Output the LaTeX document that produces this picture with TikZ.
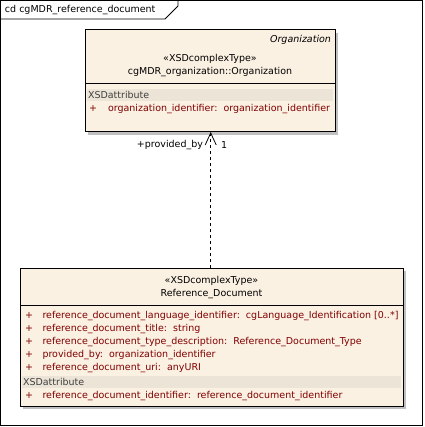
\documentclass[tikz,border=0pt]{standalone}
\usepackage{fontspec}
\setmainfont{DejaVu Sans}
\usetikzlibrary{arrows.meta}
\definecolor{boxfill}{RGB}{251,241,227}
\definecolor{bandfill}{RGB}{236,228,215}
\definecolor{attrred}{RGB}{128,0,0}
\definecolor{shadowgray}{RGB}{192,192,192}
\definecolor{xsdgray}{RGB}{64,64,64}
\begin{document}
\begin{tikzpicture}[x=1pt,y=-1pt,
  every node/.style={font=\fontsize{9.5}{10}\selectfont, inner sep=0pt, outer sep=0pt},
  classbox/.style={draw=black, line width=1pt, fill=boxfill, rectangle, anchor=north west},
  attr/.style={text=attrred, anchor=west},
  plus/.style={text=attrred, anchor=west},
  band/.style={fill=bandfill, draw=none},
  xsd/.style={anchor=west, text=xsdgray}]
\useasboundingbox (0,0) rectangle (424,427);
\fill[white] (0,0) rectangle (424,427);
% frame
\draw[line width=0.8pt] (0.5,0.5) rectangle (422.5,425.5);
\draw[line width=0.8pt] (0.5,19) -- (165,19) -- (178,6) -- (178,0.5);
\node[anchor=west] (title) at (5,10.5) {cd cgMDR\_reference\_document};
% Organization box
\fill[shadowgray] (88,33) rectangle (338,135);
\node[classbox, minimum width=250, minimum height=102] (org) at (85,30) {};
\fill[band] (87,89) rectangle (333,101);
\draw[line width=0.8pt] (85,83) -- (335,83);
\node[anchor=east, font=\fontsize{9.5}{10}\selectfont\itshape] (orgtag) at (331,40) {Organization};
\node (orgst) at (210,59) {«XSDcomplexType»};
\node (orgname) at (210,72) {cgMDR\_organization::Organization};
\node[xsd] (orgxsd) at (88,95) {XSDattribute};
\node[plus] (orgp) at (89,109) {+};
\node[attr] (orga) at (108,109) {organization\_identifier:\ \ organization\_identifier};
% Reference_Document box
\fill[shadowgray] (23,271) rectangle (406,409);
\node[classbox, minimum width=383, minimum height=138] (ref) at (20,268) {};
\draw[line width=0.8pt] (20,305) -- (403,305);
\node (refst) at (211.5,281) {«XSDcomplexType»};
\node (refname) at (211.5,294) {Reference\_Document};
\node[plus] (rp1) at (25,316) {+};
\node[attr] (ra1) at (42.5,316) {reference\_document\_language\_identifier:\ \ cgLanguage\_Identification [0..*]};
\node[plus] (rp2) at (25,329) {+};
\node[attr] (ra2) at (42.5,329) {reference\_document\_title:\ \ string};
\node[plus] (rp3) at (25,342) {+};
\node[attr] (ra3) at (42.5,342) {reference\_document\_type\_description:\ \ Reference\_Document\_Type};
\node[plus] (rp4) at (25,355) {+};
\node[attr] (ra4) at (42.5,355) {provided\_by:\ \ organization\_identifier};
\node[plus] (rp5) at (25,368) {+};
\node[attr] (ra5) at (42.5,368) {reference\_document\_uri:\ \ anyURI};
\fill[band] (22,376) rectangle (401,388);
\node[xsd] (refxsd) at (23,382) {XSDattribute};
\node[plus] (rp6) at (25,396) {+};
\node[attr] (ra6) at (42.5,396) {reference\_document\_identifier:\ \ reference\_document\_identifier};
% connector
\draw[dashed, dash pattern=on 3pt off 3pt, line width=0.8pt, -{Straight Barb[length=12pt,width=11pt,line width=0.8pt]}] (ref.north -| 210.7,0) -- (org.south -| 210.7,0);
\node[anchor=east] (pb) at (203,145) {+provided\_by};
\node[anchor=west] (one) at (221,145) {1};
\end{tikzpicture}
\end{document}
